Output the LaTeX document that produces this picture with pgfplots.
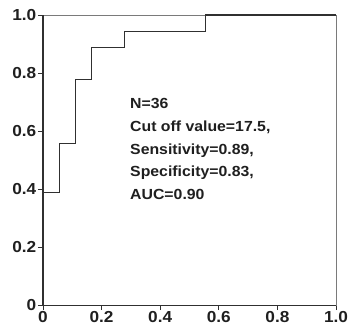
\documentclass[border=0pt]{standalone}
\usepackage{fontspec}
\setmainfont{Liberation Sans}[FakeStretch=1.08]
\usepackage{pgfplots}
\pgfplotsset{compat=1.18}
\definecolor{curvec}{HTML}{303030}
\definecolor{boxc}{HTML}{7A7A7A}
\begin{document}
\begin{tikzpicture}
\path[use as bounding box] (-43bp,-25bp) rectangle (305bp,305bp);
\begin{axis}[
  scale only axis, width=293bp, height=290bp,
  xmin=0, xmax=1, ymin=0, ymax=1,
  xtick={0,0.2,0.4,0.6,0.8,1},
  xticklabels={0,0.2,0.4,0.6,0.8,1.0},
  ytick={0,0.2,0.4,0.6,0.8,1},
  yticklabels={0,0.2,0.4,0.6,0.8,1.0},
  xtick pos=left, ytick pos=left,
  tick align=outside, major tick length=5bp,
  tick style={curvec, line width=0.8pt},
  axis line style={boxc, line width=0.6pt},
  ticklabel style={font=\bfseries\fontsize{16}{16}\selectfont, text=black!88, inner sep=1.5bp},
  clip=false,
]
\addplot[curvec, line width=1.2pt, const plot] coordinates {
  (0,0) (0,0.3889) (0.0556,0.5556) (0.1111,0.7778) (0.1667,0.8889)
  (0.2778,0.9444) (0.5556,1) (1,1)
};
\draw[curvec, line width=1.2pt] (axis cs:0,0) -- (axis cs:0,1);
\draw[curvec, line width=0.9pt] (axis cs:0,0) -- (axis cs:1,0);
\begin{scope}[every node/.style={anchor=base west, inner sep=0pt, font=\bfseries\fontsize{14.7}{16}\selectfont, text=black!88}]
\node at (axis cs:0.297,0.676) {N=36};
\node at (axis cs:0.297,0.598) {Cut off value=17.5,};
\node at (axis cs:0.297,0.520) {Sensitivity=0.89,};
\node at (axis cs:0.297,0.443) {Specificity=0.83,};
\node at (axis cs:0.297,0.364) {AUC=0.90};
\end{scope}
\end{axis}
\end{tikzpicture}
\end{document}
